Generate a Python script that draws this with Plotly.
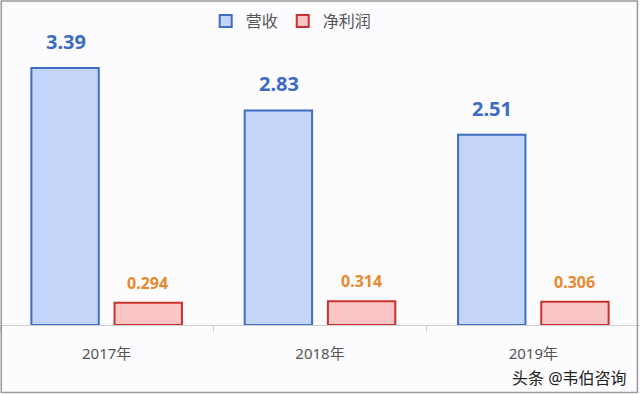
import plotly.graph_objects as go

years = ["2017年", "2018年", "2019年"]
revenue = [3.39, 2.83, 2.51]
profit = [0.294, 0.314, 0.306]
revenue_labels = ["3.39", "2.83", "2.51"]
profit_labels = ["0.294", "0.314", "0.306"]

FONT = "Noto Sans, Noto Sans CJK SC, sans-serif"
BG = "#fcfbfe"

fig = go.Figure()
fig.add_trace(go.Bar(
    name="营收", x=years, y=revenue,
    marker=dict(color="#c3d6f9", line=dict(color="#3d6dc4", width=2)),
))
fig.add_trace(go.Bar(
    name="净利润", x=years, y=profit,
    marker=dict(color="#fbc6c6", line=dict(color="#c9312e", width=2)),
))

for yr, v, t in zip(years, revenue, revenue_labels):
    fig.add_annotation(x=yr, y=v, text=t, showarrow=False, xshift=-41, yshift=11,
                       yanchor="bottom", font=dict(family=FONT, size=20, color="#3b6cc4", weight="bold"))
for yr, v, t in zip(years, profit, profit_labels):
    fig.add_annotation(x=yr, y=v, text=t, showarrow=False, xshift=41, yshift=7,
                       yanchor="bottom", font=dict(family=FONT, size=16, color="#e88a2c", weight="bold"))

fig.add_annotation(xref="paper", yref="paper", x=0.983, y=-0.174, xanchor="right", yanchor="middle",
                   text="头条 @韦伯咨询", showarrow=False,
                   font=dict(family=FONT, size=16, color="#222222"))

fig.add_shape(type="rect", xref="paper", yref="paper", x0=0.002, x1=0.996, y0=-0.222, y1=1.066,
              line=dict(color="#9a9a9a", width=1.5), layer="above")

fig.update_layout(
    width=640, height=394,
    margin=dict(l=0, r=0, t=21, b=69),
    paper_bgcolor=BG, plot_bgcolor=BG,
    barmode="group", bargap=0.22, bargroupgap=0.19,
    showlegend=True,
    legend=dict(orientation="h", x=0.455, xanchor="center", y=1.0, yanchor="middle",
                font=dict(family=FONT, size=16, color="#555555"), bgcolor="rgba(0,0,0,0)",
                itemwidth=30, traceorder="normal"),
    font=dict(family=FONT),
)
fig.update_xaxes(showline=True, linecolor="#cfcfcf", linewidth=1,
                 ticks="outside", tickson="boundaries", ticklen=6, tickcolor="#cfcfcf",
                 tickfont=dict(family=FONT, size=15, color="#555555"), ticklabelstandoff=15,
                 showgrid=False, fixedrange=True)
fig.update_yaxes(range=[0, 4.01], visible=False, showgrid=False, zeroline=False)

fig.write_html("out.html", config={"displayModeBar": False},
               post_script="document.body.style.margin='0';document.body.style.padding='0';")
